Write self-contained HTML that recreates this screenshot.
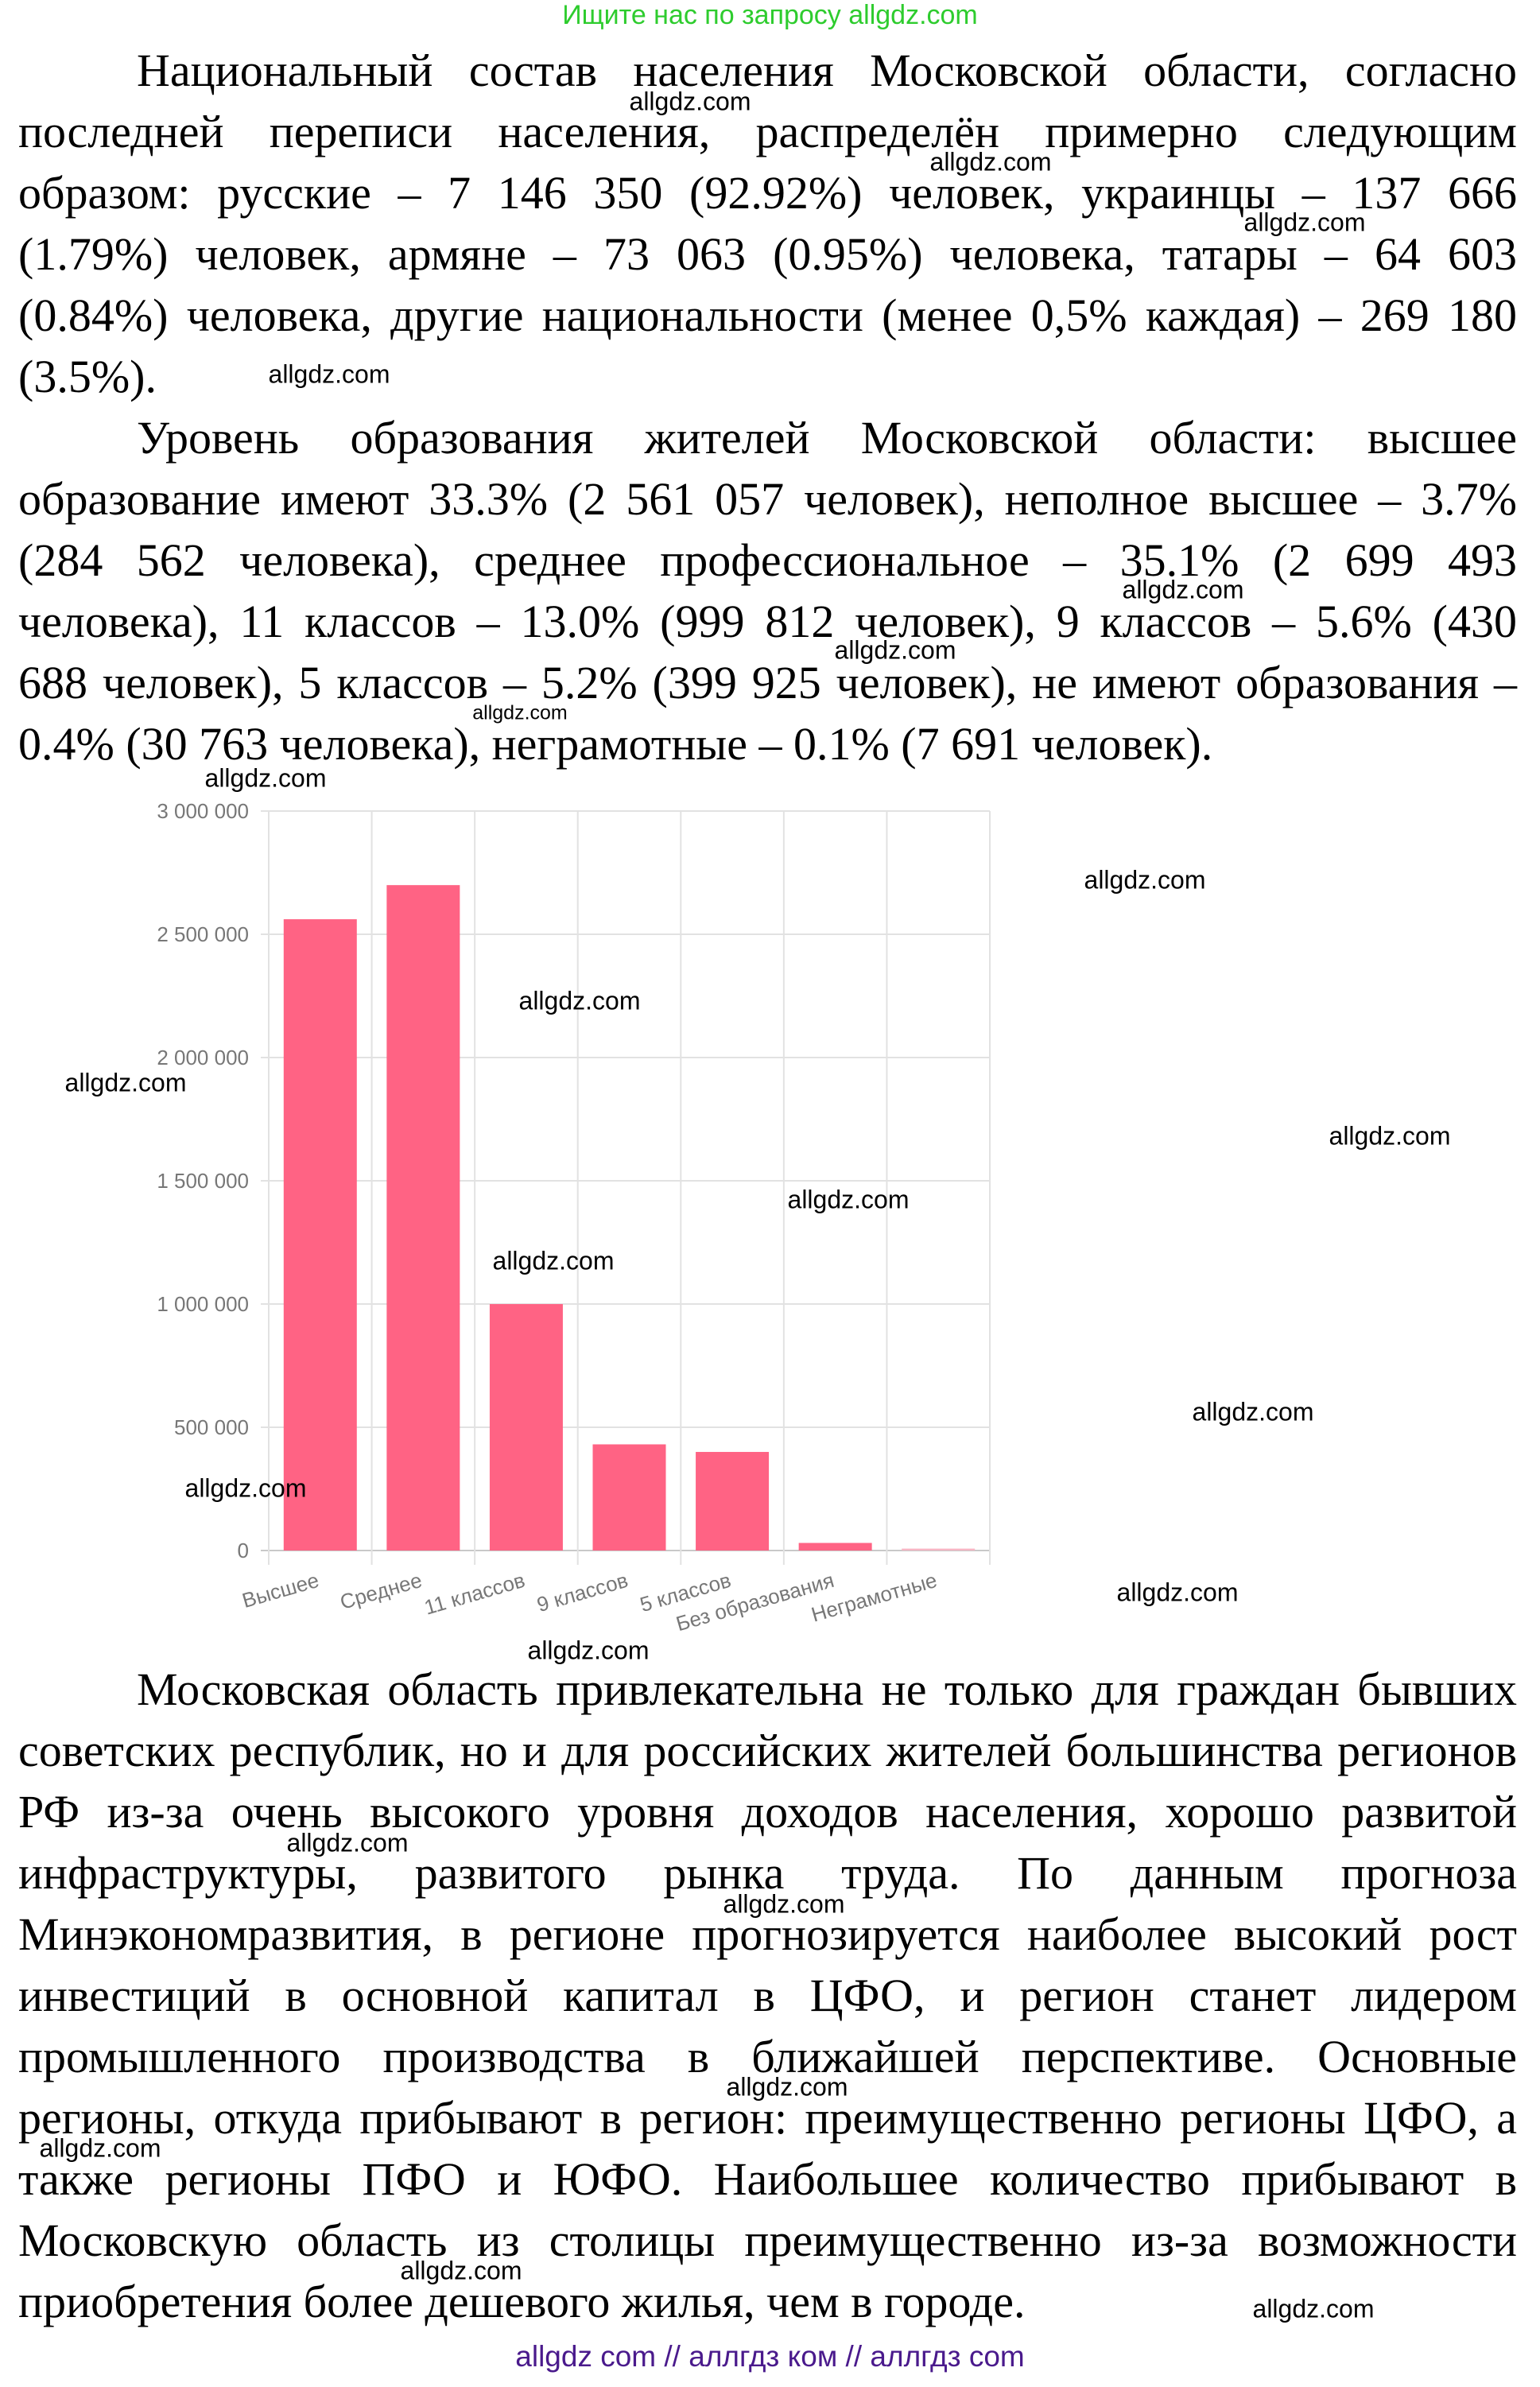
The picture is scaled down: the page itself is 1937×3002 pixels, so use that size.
<!DOCTYPE html>
<html><head><meta charset="utf-8">
<style>
html,body{margin:0;padding:0;background:#fff;}
body{width:1937px;height:3002px;position:relative;overflow:hidden;}
.ln{position:absolute;left:23px;width:1885px;height:77px;line-height:77px;font-family:"Liberation Serif","Noto Serif CJK SC",serif;font-size:58px;color:#000;text-align:justify;text-align-last:justify;white-space:nowrap;}
.ln.ind{left:172px;width:1736px;}
.ln.last{text-align-last:left;}
.wm{position:absolute;font-family:"Liberation Sans",sans-serif;font-size:32px;color:#000;transform:translate(-50%,-50%);white-space:nowrap;}
</style></head><body>
<div style="position:absolute;left:0;width:1937px;top:0px;text-align:center;font-family:'Liberation Sans',sans-serif;font-size:34px;color:#2ecc2e;">Ищите нас по запросу allgdz.com</div>

<div>
<div class="ln ind" style="top:50px">Национальный состав населения Московской области, согласно</div>
<div class="ln" style="top:127px">последней переписи населения, распределён примерно следующим</div>
<div class="ln" style="top:204px">образом: русские – 7 146 350 (92.92%) человек, украинцы – 137 666</div>
<div class="ln" style="top:281px">(1.79%) человек, армяне – 73 063 (0.95%) человека, татары – 64 603</div>
<div class="ln" style="top:358px">(0.84%) человека, другие национальности (менее 0,5% каждая) – 269 180</div>
<div class="ln last" style="top:435px">(3.5%).</div>
</div>
<div>
<div class="ln ind" style="top:512px">Уровень образования жителей Московской области: высшее</div>
<div class="ln" style="top:589px">образование имеют 33.3% (2 561 057 человек), неполное высшее – 3.7%</div>
<div class="ln" style="top:666px">(284 562 человека), среднее профессиональное – 35.1% (2 699 493</div>
<div class="ln" style="top:743px">человека), 11 классов – 13.0% (999 812 человек), 9 классов – 5.6% (430</div>
<div class="ln" style="top:820px">688 человек), 5 классов – 5.2% (399 925 человек), не имеют образования –</div>
<div class="ln last" style="top:897px">0.4% (30 763 человека), неграмотные – 0.1% (7 691 человек).</div>
</div>

<svg id="chart" style="position:absolute;left:0;top:0" width="1937" height="3002"></svg>

<div>
<div class="ln ind" style="top:2086px">Московская область привлекательна не только для граждан бывших</div>
<div class="ln" style="top:2163px">советских республик, но и для российских жителей большинства регионов</div>
<div class="ln" style="top:2240px">РФ из-за очень высокого уровня доходов населения, хорошо развитой</div>
<div class="ln" style="top:2317px">инфраструктуры, развитого рынка труда. По данным прогноза</div>
<div class="ln" style="top:2394px">Минэкономразвития, в регионе прогнозируется наиболее высокий рост</div>
<div class="ln" style="top:2471px">инвестиций в основной капитал в ЦФО, и регион станет лидером</div>
<div class="ln" style="top:2548px">промышленного производства в ближайшей перспективе. Основные</div>
<div class="ln" style="top:2625px">регионы, откуда прибывают в регион: преимущественно регионы ЦФО, а</div>
<div class="ln" style="top:2702px">также регионы ПФО и ЮФО. Наибольшее количество прибывают в</div>
<div class="ln" style="top:2779px">Московскую область из столицы преимущественно из-за возможности</div>
<div class="ln last" style="top:2856px">приобретения более дешевого жилья, чем в городе.</div>
</div>

<div style="position:absolute;left:0;width:1937px;top:2943px;text-align:center;font-family:'Liberation Sans',sans-serif;font-size:37px;color:#4a1a8c;">allgdz com // аллгдз ком // аллгдз com</div>

<div class="wm" style="left:868px;top:128px">allgdz.com</div>
<div class="wm" style="left:1246px;top:204px">allgdz.com</div>
<div class="wm" style="left:1641px;top:280px">allgdz.com</div>
<div class="wm" style="left:414px;top:471px">allgdz.com</div>
<div class="wm" style="left:1488px;top:742px">allgdz.com</div>
<div class="wm" style="left:1126px;top:818px">allgdz.com</div>
<div class="wm" style="left:654px;top:897px;font-size:25px">allgdz.com</div>
<div class="wm" style="left:334px;top:979px">allgdz.com</div>
<div class="wm" style="left:1440px;top:1107px">allgdz.com</div>
<div class="wm" style="left:729px;top:1259px">allgdz.com</div>
<div class="wm" style="left:158px;top:1362px">allgdz.com</div>
<div class="wm" style="left:1748px;top:1429px">allgdz.com</div>
<div class="wm" style="left:1067px;top:1509px">allgdz.com</div>
<div class="wm" style="left:696px;top:1586px">allgdz.com</div>
<div class="wm" style="left:1576px;top:1776px">allgdz.com</div>
<div class="wm" style="left:309px;top:1872px">allgdz.com</div>
<div class="wm" style="left:1481px;top:2003px">allgdz.com</div>
<div class="wm" style="left:740px;top:2076px">allgdz.com</div>
<div class="wm" style="left:437px;top:2318px">allgdz.com</div>
<div class="wm" style="left:986px;top:2395px">allgdz.com</div>
<div class="wm" style="left:990px;top:2625px">allgdz.com</div>
<div class="wm" style="left:126px;top:2702px">allgdz.com</div>
<div class="wm" style="left:580px;top:2856px">allgdz.com</div>
<div class="wm" style="left:1652px;top:2904px">allgdz.com</div>

<script>
const categories = ["Высшее","Среднее","11 классов","9 классов","5 классов","Без образования","Неграмотные"];
const values = [2561057, 2699493, 999812, 430688, 399925, 30763, 7691];
const yTicks = [0, 500000, 1000000, 1500000, 2000000, 2500000, 3000000];
const yTickLabels = ["0","500 000","1 000 000","1 500 000","2 000 000","2 500 000","3 000 000"];

const NS = "http://www.w3.org/2000/svg";
const svg = document.getElementById("chart");
const L = 338, R = 1245, T = 1020, B = 1950, yMax = 3000000;
const bandW = (R - L) / categories.length;
function yScale(v){ return B - (v / yMax) * (B - T); }
function xBand(i){ return L + i * bandW; }
function mk(tag, attrs){ const e = document.createElementNS(NS, tag); for (const k in attrs) e.setAttribute(k, attrs[k]); svg.appendChild(e); return e; }

yTicks.forEach((t, i) => {
  const y = yScale(t);
  const g = mk("line", {x1: L - 10, x2: R, y1: y, y2: y, stroke: i === 0 ? "#c8c8c8" : "#e2e2e2", "stroke-width": 2});
  
  
  const tx = mk("text", {x: L - 25, y: y + 9, "text-anchor": "end", "font-family": "Liberation Sans, sans-serif", "font-size": 26, fill: "#777"});
  tx.textContent = yTickLabels[i];
  
  
});
for (let i = 0; i <= categories.length; i++) {
  const x = xBand(i);
  const v = mk("line", {x1: x, x2: x, y1: T, y2: B + 18, stroke: "#e2e2e2", "stroke-width": 2});
  
  
}
categories.forEach((c, i) => {
  const cx = xBand(i) + bandW / 2;
  const bw = bandW * 0.71;
  const y = yScale(values[i]);
  const r = mk("rect", {x: cx - bw / 2, y: y, width: bw, height: Math.max(B - y, 2), fill: i === 6 ? "#f7b6c4" : "#ff6384"});
  
  
  const tx = mk("text", {x: cx, y: 1995, "text-anchor": "end", "font-family": "Liberation Sans, sans-serif", "font-size": 26, fill: "#777", transform: "rotate(-16 " + cx + " 1995)"});
  tx.textContent = c;
  
  
});
</script>
</body></html>
